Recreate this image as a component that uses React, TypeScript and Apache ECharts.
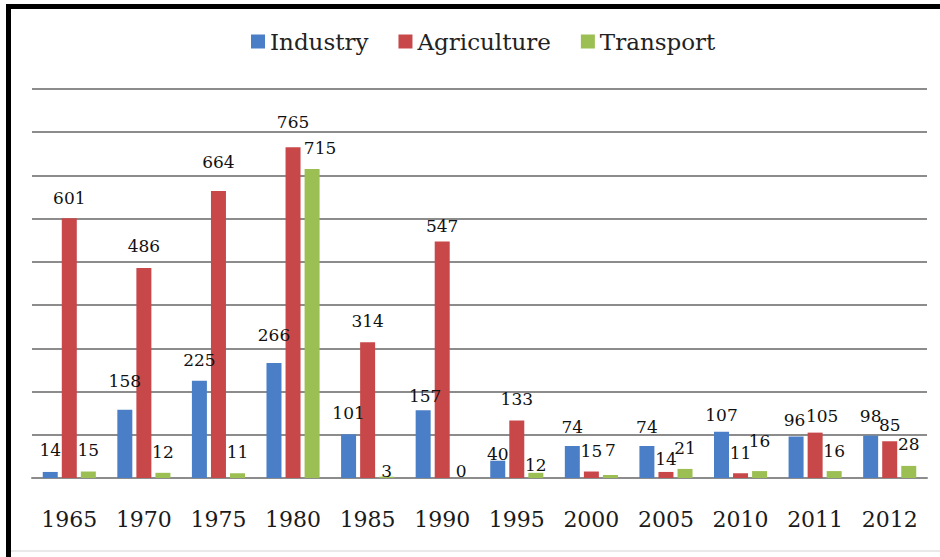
import { useEffect, useRef } from "react";
import * as echarts from "echarts";

const categories = ["1965", "1970", "1975", "1980", "1985", "1990", "1995", "2000", "2005", "2010", "2011", "2012"];
const industry = [14, 158, 225, 266, 101, 157, 40, 74, 74, 107, 96, 98];
const agriculture = [601, 486, 664, 765, 314, 547, 133, 15, 14, 11, 105, 85];
const transport = [15, 12, 11, 715, 3, 0, 12, 7, 21, 16, 16, 28];

// label nudges [dx, dy] in px, as placed in the reference
const industryNudge = [[0, 0], [0, -7], [0, 1], [0, -6.5], [0, 0], [2, 7.5], [0, 15], [0, 2.5], [0, 2.5], [0, 5], [-1.5, 5], [0, 1.5]];
const agricultureNudge = [[0, 1.3], [0, 0], [0, -8], [0, -4], [0, 0], [0, 6], [0, 0], [0, 0.5], [0, 8.5], [0, 1.3], [7, 5], [0, 5]];
const transportNudge = [[0, 0], [0, 1], [0, 0], [8, 1], [0, 15.3], [0, 14], [0, 13.7], [0, -3], [0, 1], [0, -9], [0, 1], [0, 0]];

const FONT = "DejaVu Serif";

function withNudge(values: number[], nudges: number[][]) {
  return values.map((v, i) => ({ value: v, label: { offset: nudges[i] } }));
}

export default function App() {
  const ref = useRef<HTMLDivElement>(null);
  useEffect(() => {
    document.body.style.margin = "0";
    if (!ref.current) return;
    const chart = echarts.init(ref.current, null, { renderer: "svg" });
    const label = {
      show: true,
      position: "top" as const,
      distance: 13,
      fontFamily: FONT,
      fontSize: 17,
      color: "#111",
    };
    const mkSeries = (name: string, values: number[], nudges: number[][], color: string) => ({
      name,
      type: "bar" as const,
      data: withNudge(values, nudges),
      barWidth: 15,
      barGap: "27%",
      itemStyle: { color },
      label,
    });
    chart.setOption({
      animation: false,
      backgroundColor: "#fff",
      legend: {
        left: 246,
        top: 25,
        icon: "rect",
        itemWidth: 14,
        itemHeight: 14,
        itemGap: 30,
        textStyle: { fontFamily: FONT, fontSize: 23, color: "#222" },
        data: ["Industry", "Agriculture", "Transport"],
      },
      grid: { left: 32, right: 13, top: 89, bottom: 79, containLabel: false },
      xAxis: {
        type: "category",
        data: categories,
        axisTick: { show: false },
        axisLine: { lineStyle: { color: "#8c8c8c", width: 2 } },
        axisLabel: { fontFamily: FONT, fontSize: 22, color: "#1a1a1a", margin: 30 },
      },
      yAxis: {
        type: "value",
        min: 0,
        max: 900,
        interval: 100,
        axisLabel: { show: false },
        axisLine: { show: false },
        axisTick: { show: false },
        splitLine: { lineStyle: { color: "#8c8c8c", width: 2 } },
      },
      series: [
        mkSeries("Industry", industry, industryNudge, "#4A7FC8"),
        mkSeries("Agriculture", agriculture, agricultureNudge, "#C8484A"),
        mkSeries("Transport", transport, transportNudge, "#9BBF52"),
      ],
      graphic: [
        { type: "line", shape: { x1: 6, y1: 6.5, x2: 940, y2: 6.5 }, style: { stroke: "#000", lineWidth: 5 } },
        { type: "line", shape: { x1: 8.5, y1: 4, x2: 8.5, y2: 557 }, style: { stroke: "#000", lineWidth: 5 } },
        { type: "line", shape: { x1: 11, y1: 551, x2: 940, y2: 551 }, style: { stroke: "#e2e2e2", lineWidth: 1.5 } },
      ],
    });
    return () => chart.dispose();
  }, []);
  return <div ref={ref} style={{ width: 940, height: 557 }} />;
}
